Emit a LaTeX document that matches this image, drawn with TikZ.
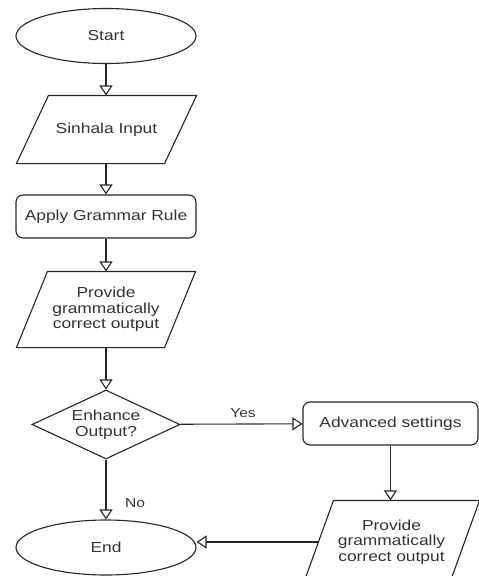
\documentclass[tikz,border=0pt]{standalone}
\usepackage{fontspec}
\setmainfont{Liberation Sans}[FakeStretch=1.2]
\usetikzlibrary{shapes.geometric,arrows.meta}
\newcommand{\drawpara}[2]{\draw[shapeline] ([xshift=#2]#1.north west) -- ([xshift=#2]#1.north east) -- ([xshift=-#2]#1.south east) -- ([xshift=-#2]#1.south west) -- cycle;}
\begin{document}
\begin{tikzpicture}[x=1pt,y=-1pt,
 shapeline/.style={draw=black!85, line width=1.1pt},
 base/.style={draw=black!85, line width=1.1pt, fill=white, text=black!80, font=\fontsize{14.5}{15.5}\selectfont, align=center, inner sep=0pt},
 term/.style={base, ellipse, minimum width=180pt, minimum height=55pt},
 proc/.style={base, rectangle, rounded corners=7pt, minimum width=180pt, minimum height=43pt},
 io/.style={base, draw=none, fill=none, rectangle},
 dec/.style={base, diamond, aspect=1.72, minimum width=148pt},
 arr/.style={draw=black!85, line width=1.1pt, -{Triangle[open, length=10pt, width=13pt]}},
 lbl/.style={text=black!80, font=\fontsize{13}{14}\selectfont, inner sep=0pt}]
\useasboundingbox (0,0) rectangle (479,576);
\clip (0,0) rectangle (479,576);
\node[term] (start) at (106,36) {Start};
\node[io, minimum width=147pt, minimum height=67pt] (in) at (106.5,129.5) {Sinhala Input};
\drawpara{in}{16pt}
\node[proc] (rule) at (106,216.5) {Apply Grammar Rule};
\node[io, minimum width=147pt, minimum height=75pt] (out1) at (106,309.5) {Provide\\grammatically\\correct output};
\drawpara{out1}{15.5pt}
\node[dec] (enh) at (106,424.5) {Enhance\\Output?};
\node[term] (end) at (106,547.5) {End};
\node[proc, minimum width=175pt] (adv) at (390.5,423.5) {Advanced settings};
\node[io, minimum width=145pt, minimum height=82pt] (out2) at (391.5,542) {Provide\\grammatically\\correct output};
\drawpara{out2}{15pt}
\draw[arr] (start) -- (start |- in.north);
\draw[arr] (start |- in.south) -- (rule);
\draw[arr] (rule) -- (rule |- out1.north);
\draw[arr] (rule |- out1.south) -- (enh);
\draw[arr] (enh) -- (end);
\node[lbl] (no) at (135,503) {No};
\draw[arr] (enh) -- (adv);
\node[lbl] (yes) at (243,413) {Yes};
\draw[arr] (adv) -- (adv |- out2.north);
\draw[arr] (out2.west) -- (end.east |- out2.west);
\end{tikzpicture}
\end{document}
